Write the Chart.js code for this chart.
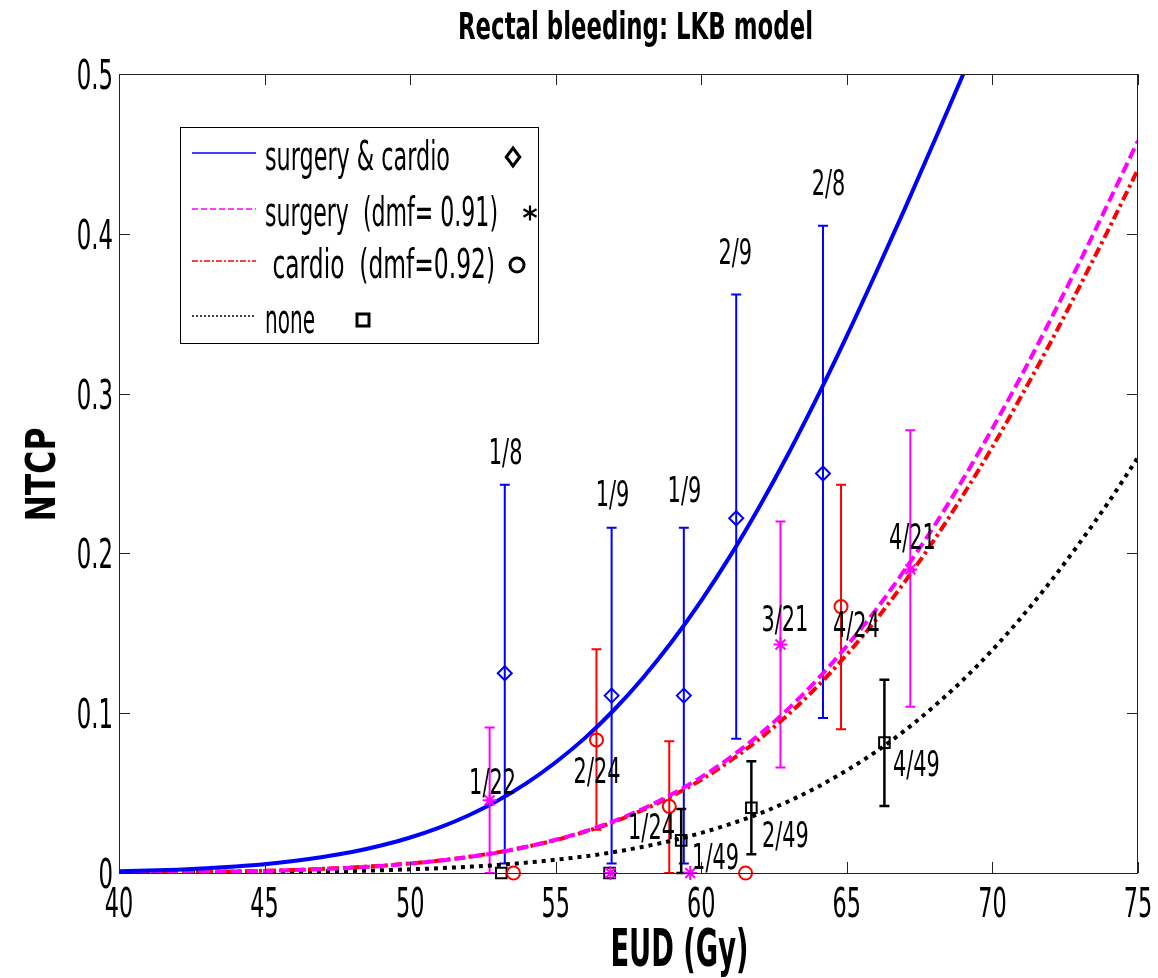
<!DOCTYPE html>
<html>
<head>
<meta charset="utf-8">
<script src="https://cdn.jsdelivr.net/npm/chart.js@4.4.1/dist/chart.umd.min.js"></script>
<style>
html, body { margin: 0; padding: 0; background: #fff; }
</style>
</head>
<body>
<canvas id="myChart" width="1158" height="978"></canvas>
<script>
// model curves at every 1 Gy
var eud = [40,41,42,43,44,45,46,47,48,49,50,51,52,53,54,55,56,57,58,59,60,61,62,63,64,65,66,67,68,69,70,71,72,73,74,75];
var ntcpSurgCardio = [0.0011,0.0015,0.0021,0.0030,0.0041,0.0055,0.0075,0.0100,0.0131,0.0172,0.0222,0.0284,0.0360,0.0452,0.0562,0.0693,0.0844,0.1020,0.1222,0.1450,0.1705,0.1986,0.2294,0.2627,0.2984,0.3361,0.3756,0.4161,0.4578,0.5000,0.5420,0.5840,0.6245,0.6640,0.7016,0.7370];
var ntcpSurgery = [0.0002,0.0004,0.0005,0.0007,0.0010,0.0013,0.0018,0.0025,0.0033,0.0044,0.0059,0.0077,0.0100,0.0128,0.0164,0.0208,0.0261,0.0325,0.0402,0.0494,0.0600,0.0724,0.0867,0.1030,0.1214,0.1421,0.1648,0.1900,0.2171,0.2467,0.2782,0.3114,0.3464,0.3825,0.4200,0.4582];
var ntcpCardio = [0.0003,0.0004,0.0005,0.0008,0.0010,0.0014,0.0019,0.0026,0.0035,0.0046,0.0060,0.0078,0.0101,0.0129,0.0164,0.0206,0.0258,0.0320,0.0395,0.0482,0.0584,0.0703,0.0839,0.0994,0.1170,0.1367,0.1584,0.1825,0.2084,0.2367,0.2666,0.2987,0.3321,0.3673,0.4032,0.4404];
var ntcpNone = [0.0001,0.0001,0.0002,0.0003,0.0004,0.0005,0.0007,0.0010,0.0013,0.0017,0.0023,0.0030,0.0039,0.0050,0.0065,0.0083,0.0104,0.0131,0.0164,0.0203,0.0251,0.0307,0.0372,0.0449,0.0539,0.0643,0.0759,0.0893,0.1044,0.1210,0.1396,0.1601,0.1825,0.2067,0.2324,0.2601];

// observed rates with error bars
var scX = [53.25, 56.92, 59.40, 61.20, 64.18];
var scY = [0.125, 0.111, 0.111, 0.222, 0.250];
var scLo = [0.006, 0.006, 0.006, 0.084, 0.097];
var scHi = [0.243, 0.216, 0.216, 0.362, 0.405];

var sgX = [52.73, 56.88, 59.62, 62.72, 67.18];
var sgY = [0.0455, 0, 0, 0.143, 0.190];
var sgLo = [0, 0, 0, 0.066, 0.104];
var sgHi = [0.091, 0, 0, 0.220, 0.277];

var cdX = [53.55, 56.40, 58.90, 61.52, 64.80];
var cdY = [0, 0.0833, 0.0417, 0, 0.1667];
var cdLo = [0, 0.027, 0, 0, 0.090];
var cdHi = [0, 0.140, 0.0825, 0, 0.243];

var nnX = [53.13, 56.85, 59.31, 61.72, 66.29];
var nnY = [0, 0, 0.0204, 0.0408, 0.0816];
var nnLo = [0, 0, 0, 0.0117, 0.042];
var nnHi = [0, 0, 0.040, 0.070, 0.121];

// event fractions written next to the points
var fracText = ['1/8','1/9','1/9','2/9','2/8','1/22','2/24','1/24','1/49','3/21','4/24','4/21','2/49','4/49'];
var fracX = [53.28, 56.95, 59.42, 61.17, 64.37, 52.83, 56.42, 58.29, 60.49, 62.87, 65.33, 67.25, 62.89, 67.39];
var fracY = [0.264, 0.2375, 0.2406, 0.389, 0.4325, 0.0575, 0.0644, 0.0294, 0.0106, 0.1594, 0.1556, 0.2106, 0.0244, 0.0688];

var xTicks = [40, 45, 50, 55, 60, 65, 70, 75];
var yTicks = [0, 0.1, 0.2, 0.3, 0.4, 0.5];

var titleText = 'Rectal bleeding: LKB model';
var xTitle = 'EUD (Gy)';
var yTitle = 'NTCP';
var legendText = ['surgery & cardio', 'surgery  (dmf= 0.91)', ' cardio  (dmf=0.92)', 'none'];

var FONT = "'DejaVu Sans', sans-serif";
Chart.defaults.font.family = FONT;
Chart.defaults.color = '#000';

function curve(label, ys, color, dash) {
    return {
        type: 'line',
        label: label,
        data: eud.map(function(x, i){ return {x: x, y: ys[i]}; }),
        borderColor: color,
        borderWidth: 4,
        borderDash: dash,
        pointRadius: 0,
        fill: false,
        cubicInterpolationMode: 'monotone',
        clip: 0
    };
}

function obs(label, xs, ys, lo, hi, color, style, r, barW) {
    return {
        type: 'line',
        label: label,
        showLine: false,
        data: xs.map(function(x, i){ return {x: x, y: ys[i], lo: lo[i], hi: hi[i]}; }),
        pointStyle: style,
        pointRadius: r,
        pointBorderColor: color,
        pointBackgroundColor: 'rgba(0,0,0,0)',
        pointBorderWidth: 2,
        borderColor: color,
        errColor: color,
        errWidth: barW,
        clip: false
    };
}

function drawMarker(ctx, style, x, y, r) {
    ctx.beginPath();
    if (style === 'rectRot') {
        ctx.moveTo(x, y - r); ctx.lineTo(x + r * 0.75, y); ctx.lineTo(x, y + r); ctx.lineTo(x - r * 0.75, y); ctx.closePath();
    } else if (style === 'star') {
        ctx.moveTo(x, y - r); ctx.lineTo(x, y + r);
        var dx = r * 0.87, dy = r * 0.5;
        ctx.moveTo(x - dx, y - dy); ctx.lineTo(x + dx, y + dy);
        ctx.moveTo(x - dx, y + dy); ctx.lineTo(x + dx, y - dy);
    } else if (style === 'circle') {
        ctx.arc(x, y, r, 0, Math.PI * 2);
    } else {
        ctx.rect(x - r, y - r, 2 * r, 2 * r);
    }
    ctx.stroke();
}

// draws text squeezed sideways, baseline at y
function squeezeText(ctx, text, x, y, font, sx, align) {
    ctx.save();
    ctx.font = font;
    ctx.translate(x, y);
    ctx.scale(sx, 1);
    ctx.textAlign = align;
    ctx.textBaseline = 'alphabetic';
    ctx.fillStyle = '#000';
    ctx.fillText(text, 0, 0);
    ctx.restore();
}

function fitText(ctx, text, x, y, font, width, align) {
    ctx.save();
    ctx.font = font;
    var w = ctx.measureText(text).width;
    ctx.restore();
    squeezeText(ctx, text, x, y, font, width / w, align);
}

var errorBars = {
    id: 'errorBars',
    beforeDatasetsDraw: function(chart) {
        var ctx = chart.ctx, xs = chart.scales.x, ys = chart.scales.y;
        chart.data.datasets.forEach(function(ds) {
            if (!ds.errColor) return;
            ctx.save();
            ctx.strokeStyle = ds.errColor;
            ctx.lineWidth = ds.errWidth;
            ds.data.forEach(function(p) {
                if (p.hi === p.lo) return;
                var px = xs.getPixelForValue(p.x);
                var top = ys.getPixelForValue(p.hi), bot = ys.getPixelForValue(p.lo);
                ctx.beginPath();
                ctx.moveTo(px, top); ctx.lineTo(px, bot);
                ctx.moveTo(px - 5, top); ctx.lineTo(px + 5, top);
                ctx.moveTo(px - 5, bot); ctx.lineTo(px + 5, bot);
                ctx.stroke();
            });
            ctx.restore();
        });
    }
};

var frame = {
    id: 'frame',
    afterDatasetsDraw: function(chart) {
        var ctx = chart.ctx, a = chart.chartArea, xs = chart.scales.x, ys = chart.scales.y;
        ctx.save();
        ctx.strokeStyle = '#222';
        ctx.lineWidth = 1;
        ctx.strokeRect(a.left + 0.5, a.top + 0.5, a.right - a.left - 1, a.bottom - a.top);
        ctx.beginPath();
        xs.ticks.forEach(function(t) {
            var px = Math.round(xs.getPixelForValue(t.value)) + 0.5;
            ctx.moveTo(px, a.bottom); ctx.lineTo(px, a.bottom - 11);
            ctx.moveTo(px, a.top); ctx.lineTo(px, a.top + 11);
        });
        ys.ticks.forEach(function(t) {
            var py = Math.round(ys.getPixelForValue(t.value)) + 0.5;
            ctx.moveTo(a.left, py); ctx.lineTo(a.left + 11, py);
            ctx.moveTo(a.right, py); ctx.lineTo(a.right - 11, py);
        });
        ctx.stroke();
        ctx.restore();

        // tick labels, narrow like the original
        xs.ticks.forEach(function(t) {
            squeezeText(ctx, String(t.value), xs.getPixelForValue(t.value), a.bottom + 44, '40px ' + FONT, 0.56, 'center');
        });
        ys.ticks.forEach(function(t) {
            squeezeText(ctx, String(t.value), a.left - 6, ys.getPixelForValue(t.value) + 15, '40px ' + FONT, 0.57, 'right');
        });

        // titles
        fitText(ctx, titleText, (a.left + a.right) / 2 + 7, 39, 'bold 37px ' + FONT, 355, 'center');
        fitText(ctx, xTitle, a.left + (a.right - a.left) * 0.55, 966, 'bold 51px ' + FONT, 138, 'center');
        ctx.save();
        ctx.translate(55, (a.top + a.bottom) / 2 + 1);
        ctx.rotate(-Math.PI / 2);
        fitText(ctx, yTitle, 0, 0, 'bold 41px ' + FONT, 94, 'center');
        ctx.restore();

        // fraction labels
        for (var i = 0; i < fracText.length; i++) {
            squeezeText(ctx, fracText[i], xs.getPixelForValue(fracX[i]), ys.getPixelForValue(fracY[i]) + 13,
                '36px ' + FONT, 0.58, 'center');
        }
    },
    afterDraw: function(chart) {
        var ctx = chart.ctx;
        // legend box
        ctx.save();
        ctx.fillStyle = '#fff';
        ctx.fillRect(180, 127, 358, 216);
        ctx.strokeStyle = '#000';
        ctx.lineWidth = 1;
        ctx.strokeRect(180.5, 127.5, 358, 216);
        var rows = [153, 209, 261, 316];
        var textX = [265, 265, 265, 265];
        var textW = [185, 233, 230, 50];
        var markX = [513, 530, 517, 363];
        var styles = [['#0000ff', [], 'rectRot', 9, 3], ['#ff00ff', [6, 3], 'star', 7.5, 2.2], ['#ff0000', [6, 2, 2, 2], 'circle', 7, 3], ['#000000', [2, 2], 'rect', 6, 3]];
        for (var i = 0; i < 4; i++) {
            ctx.strokeStyle = styles[i][0];
            ctx.lineWidth = 1.5;
            ctx.setLineDash(styles[i][1]);
            ctx.beginPath();
            ctx.moveTo(192, rows[i]); ctx.lineTo(256, rows[i]);
            ctx.stroke();
            ctx.setLineDash([]);
            fitText(ctx, legendText[i], textX[i], rows[i] + 17, '40px ' + FONT, textW[i], 'left');
            ctx.strokeStyle = '#000';
            ctx.lineWidth = styles[i][4];
            drawMarker(ctx, styles[i][2], markX[i], rows[i] + 4, styles[i][3]);
        }
        ctx.restore();
    }
};

const ctx = document.getElementById('myChart');
const myChart = new Chart(ctx, {
    data: {
        datasets: [
            obs('surgery & cardio obs', scX, scY, scLo, scHi, '#0000ff', 'rectRot', 7, 2),
            obs('surgery obs', sgX, sgY, sgLo, sgHi, '#ff00ff', 'star', 7, 2),
            obs('cardio obs', cdX, cdY, cdLo, cdHi, '#ff0000', 'circle', 6.5, 2),
            obs('none obs', nnX, nnY, nnLo, nnHi, '#000000', 'rect', 7.5, 2.5),
            curve('surgery & cardio', ntcpSurgCardio, '#0000ff', []),
            curve('surgery (dmf= 0.91)', ntcpSurgery, '#ff00ff', [11, 5]),
            curve('cardio (dmf=0.92)', ntcpCardio, '#ff0000', [10, 4, 3, 4]),
            curve('none', ntcpNone, '#000000', [4, 5])
        ]
    },
    options: {
        responsive: false,
        animation: false,
        layout: { padding: { left: 0, right: 20, top: 74, bottom: 0 } },
        plugins: {
            legend: { display: false },
            tooltip: { enabled: false },
            title: { display: false }
        },
        scales: {
            x: {
                type: 'linear',
                min: 40, max: 75,
                afterBuildTicks: function(s){ s.ticks = xTicks.map(function(v){ return {value: v}; }); },
                afterFit: function(s){ s.height = 105; },
                grid: { display: false, drawTicks: false },
                border: { display: false },
                ticks: { display: false }
            },
            y: {
                type: 'linear',
                min: 0, max: 0.5,
                afterBuildTicks: function(s){ s.ticks = yTicks.map(function(v){ return {value: v}; }); },
                afterFit: function(s){ s.width = 119; },
                grid: { display: false, drawTicks: false },
                border: { display: false },
                ticks: { display: false }
            }
        }
    },
    plugins: [errorBars, frame]
});
</script>
</body>
</html>
